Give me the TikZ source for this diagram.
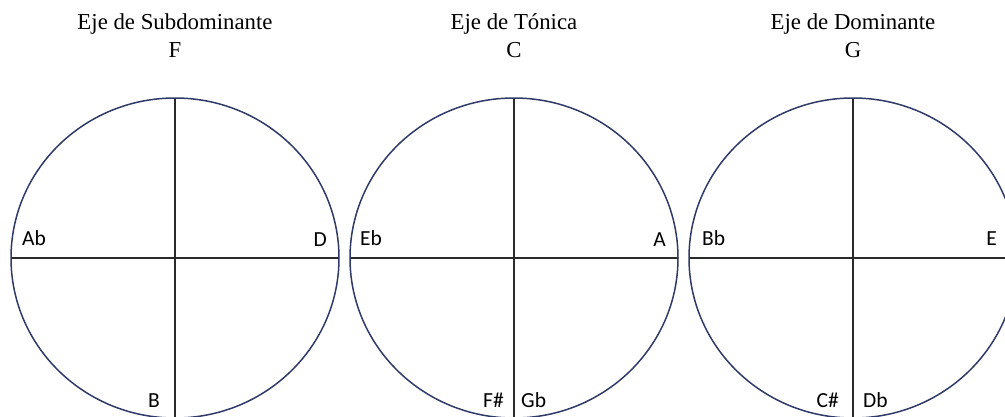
\documentclass[tikz,border=0pt]{standalone}
\usepackage{fontspec}
\setmainfont{Liberation Serif}
\newfontfamily\lblfont{Carlito}
\begin{document}
\begin{tikzpicture}[x=1pt,y=-1pt,
  ring/.style={draw=ringblue,line width=1.5pt},
  axisline/.style={draw=axisgray,line width=1.2pt},
  ttl/.style={font=\fontsize{22.8}{26}\selectfont,inner sep=0pt,anchor=base},
  lbl/.style={font=\lblfont\fontsize{21.5}{24}\selectfont,inner sep=0pt}]
\definecolor{ringblue}{HTML}{2F3A68}
\definecolor{axisgray}{HTML}{2A2A2A}
\useasboundingbox (0,0) rectangle (1005,416);
\begin{scope}
\clip (0,0) rectangle (1005,416);
\foreach \n/\cx in {s/175,t/514,d/853}{
  \coordinate (c\n) at (\cx,258);
  \coordinate (top\n) at (\cx,98);
  \coordinate (bot\n) at (\cx,420);
  \coordinate (lft\n) at (\cx-164,258);
  \coordinate (rgt\n) at (\cx+164,258);
  \draw[axisline] (top\n) -- (bot\n);
  \draw[axisline] (lft\n) -- (rgt\n);
  \draw[ring] (c\n) ellipse [x radius=164, y radius=160];
}
\end{scope}
% titles
\node[ttl] (t1a) at (175,29) {Eje de Subdominante};
\node[ttl] (t1b) at (175,57) {F};
\node[ttl] (t2a) at (514,29) {Eje de Tónica};
\node[ttl] (t2b) at (514,57) {C};
\node[ttl] (t3a) at (853,29) {Eje de Dominante};
\node[ttl] (t3b) at (853,57) {G};
% labels
\node[lbl,anchor=base west] (ab) at (22,245) {Ab};
\node[lbl,anchor=base east] (dd) at (327,246) {D};
\node[lbl,anchor=base east] (bb) at (160,407) {B};
\node[lbl,anchor=base west] (eb) at (360,245) {Eb};
\node[lbl,anchor=base east] (aa) at (666,246) {A};
\node[lbl,anchor=base east] (fs) at (504,407) {F\#};
\node[lbl,anchor=base west] (gb) at (521,407) {Gb};
\node[lbl,anchor=base west] (bf) at (702,245) {Bb};
\node[lbl,anchor=base east] (ee) at (997,245) {E};
\node[lbl,anchor=base east] (cs) at (839,407) {C\#};
\node[lbl,anchor=base west] (db) at (863,407) {Db};
\end{tikzpicture}
\end{document}
